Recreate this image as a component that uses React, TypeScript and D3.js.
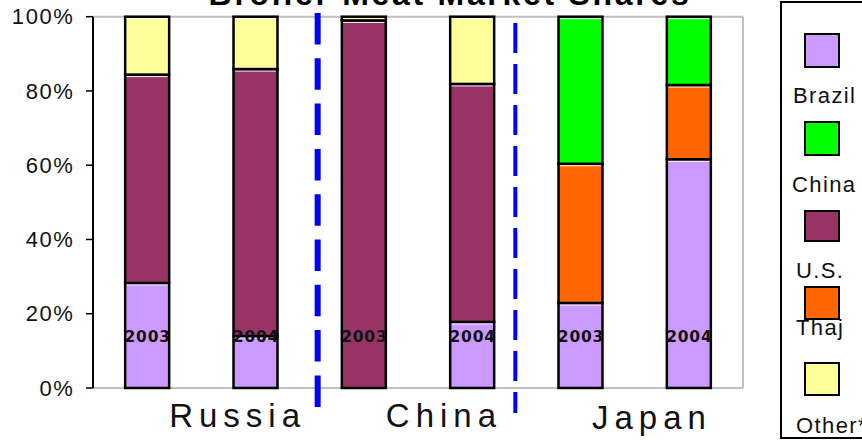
import React from "react";
import * as d3 from "d3";

// ---- data ----
const countries = ["Russia", "China", "Japan"];
const years = ["2003", "2004"];
const barIds = ["Russia 2003", "Russia 2004", "China 2003", "China 2004", "Japan 2003", "Japan 2004"];
const barYears = ["2003", "2004", "2003", "2004", "2003", "2004"];
const seriesKeys = ["Brazil", "U.S.", "Thai", "China", "Other"];
const brazil = [28.3, 14.0, 0, 17.8, 22.9, 61.6];
const us = [56.1, 71.9, 99.0, 64.1, 0, 0];
const thai = [0, 0, 0, 0, 37.5, 20.0];
const chinaShare = [0, 0, 0, 0, 39.6, 18.4];
const other = [15.6, 14.1, 1.0, 18.1, 0, 0];
const yTicks = [0, 20, 40, 60, 80, 100];
const legendLabels = ["Brazil", "China", "U.S.", "Thaj", "Other*"];
const legendKeys = ["Brazil", "China", "U.S.", "Thai", "Other"];
const title = "Broiler Meat Market Shares";

const colors: Record<string, string> = {
  Brazil: "#cc99ff",
  "U.S.": "#993366",
  Thai: "#ff6600",
  China: "#00ff00",
  Other: "#ffff99",
};

const FONT = "'Liberation Sans', Arial, sans-serif";

export default function App() {
  const W = 862, H = 440;
  const left = 93, right = 743, top = 16.7, bottom = 388;

  const x = d3.scaleBand<string>().domain(barIds).range([left, right]).paddingInner(0.594).paddingOuter(0.297);
  const y = d3.scaleLinear().domain([0, 100]).range([bottom, top]);

  const rows = barIds.map((id, i) => ({
    id,
    Brazil: brazil[i],
    "U.S.": us[i],
    Thai: thai[i],
    China: chinaShare[i],
    Other: other[i],
  }));
  const stacked = d3.stack<any>().keys(seriesKeys)(rows);

  const bw = x.bandwidth();
  const step = x.step();

  // group label positions (start of text), offsets from first bar of each group
  const labelOffsets = [44, 44, 33.5];
  const labelBaselines = [427, 427, 429];

  // divider positions relative to group boundaries
  const div1 = x(barIds[2])! - (step - bw) / 2 + 8;
  const div2 = x(barIds[4])! - (step - bw) / 2 - 11;

  const legendX = 781;
  const swX = 805;
  const swY = [34, 122, 211, 287, 363];
  const swH = [33, 33, 30, 32, 32];
  const lblY = [103, 192, 278, 335, 433];
  const lblX = [793, 792, 796, 796, 796];

  return (
    <svg width={W} height={H} style={{ position: "absolute", left: 0, top: 0, background: "#fff" }}>
      {/* title (clipped at top in the original) */}
      <text x={450} y={5} textAnchor="middle" fontFamily={FONT} fontWeight="bold" fontSize={32} letterSpacing={2.7} fill="#000">
        {title}
      </text>

      {/* plot frame */}
      <line x1={left} x2={right} y1={y(100)} y2={y(100)} stroke="#c0c0c0" strokeWidth={2} />
      <line x1={left} x2={right} y1={y(0)} y2={y(0)} stroke="#c0c0c0" strokeWidth={2} />
      <line x1={right} x2={right} y1={y(100)} y2={y(0)} stroke="#c0c0c0" strokeWidth={2} />

      {/* y axis */}
      <line x1={left} x2={left} y1={y(100)} y2={y(0)} stroke="#000" strokeWidth={2} />
      {yTicks.map((t) => (
        <g key={t}>
          <line x1={left - 7} x2={left} y1={y(t)} y2={y(t)} stroke="#000" strokeWidth={1.5} />
          <text x={74.5} y={y(t)} dy="0.35em" textAnchor="end" fontFamily={FONT} fontSize={22} letterSpacing={1.6} fill="#111">
            {t + "%"}
          </text>
        </g>
      ))}

      {/* bars */}
      {stacked.map((s) => (
        <g key={s.key}>
          {s.map((d, i) => {
            const v = d[1] - d[0];
            if (v <= 0) return null;
            const bx = x(barIds[i])!;
            const y0 = y(d[0]);
            const y1 = y(d[1]);
            return (
              <g key={i}>
                <rect x={bx} y={y1} width={bw} height={y0 - y1} fill={colors[s.key]} stroke="#000" strokeWidth={2.5} />
                {y0 - y1 > 5 && (
                  <line x1={bx + 1.5} x2={bx + bw - 1.5} y1={y1 + 2} y2={y1 + 2} stroke="#fff" strokeWidth={1} />
                )}
              </g>
            );
          })}
        </g>
      ))}

      {/* year labels */}
      {barIds.map((id, i) => (
        <text key={id} x={x(id)! + bw / 2 + 0.5} y={337} dy="0.35em" textAnchor="middle" fontFamily="'DejaVu Sans', Verdana, sans-serif" fontWeight="bold" fontSize={15.5} letterSpacing={0.8} fill="#111">
          {barYears[i]}
        </text>
      ))}

      {/* dashed dividers */}
      <line x1={div1} x2={div1} y1={13} y2={407} stroke="#0000ff" strokeWidth={6} strokeDasharray="31.5 13.8" />
      <line x1={div2} x2={div2} y1={23} y2={413} stroke="#0000ff" strokeWidth={4} strokeDasharray="30 11" />

      {/* country labels */}
      {countries.map((c, i) => (
        <text key={c} x={x(barIds[i * 2])! + labelOffsets[i]} y={labelBaselines[i]} fontFamily={FONT} fontSize={33} letterSpacing={6} fill="#111">
          {c}
        </text>
      ))}

      {/* legend */}
      <rect x={legendX} y={2} width={W - legendX + 10} height={436} fill="#fff" stroke="#000" strokeWidth={2} />
      {legendKeys.map((k, i) => (
        <g key={k}>
          <rect x={swX} y={swY[i]} width={34} height={swH[i]} fill={colors[k]} stroke="#000" strokeWidth={2} />
          <text x={lblX[i]} y={lblY[i]} fontFamily={FONT} fontSize={22} letterSpacing={1.4} fill="#111">
            {legendLabels[i]}
          </text>
        </g>
      ))}
    </svg>
  );
}
